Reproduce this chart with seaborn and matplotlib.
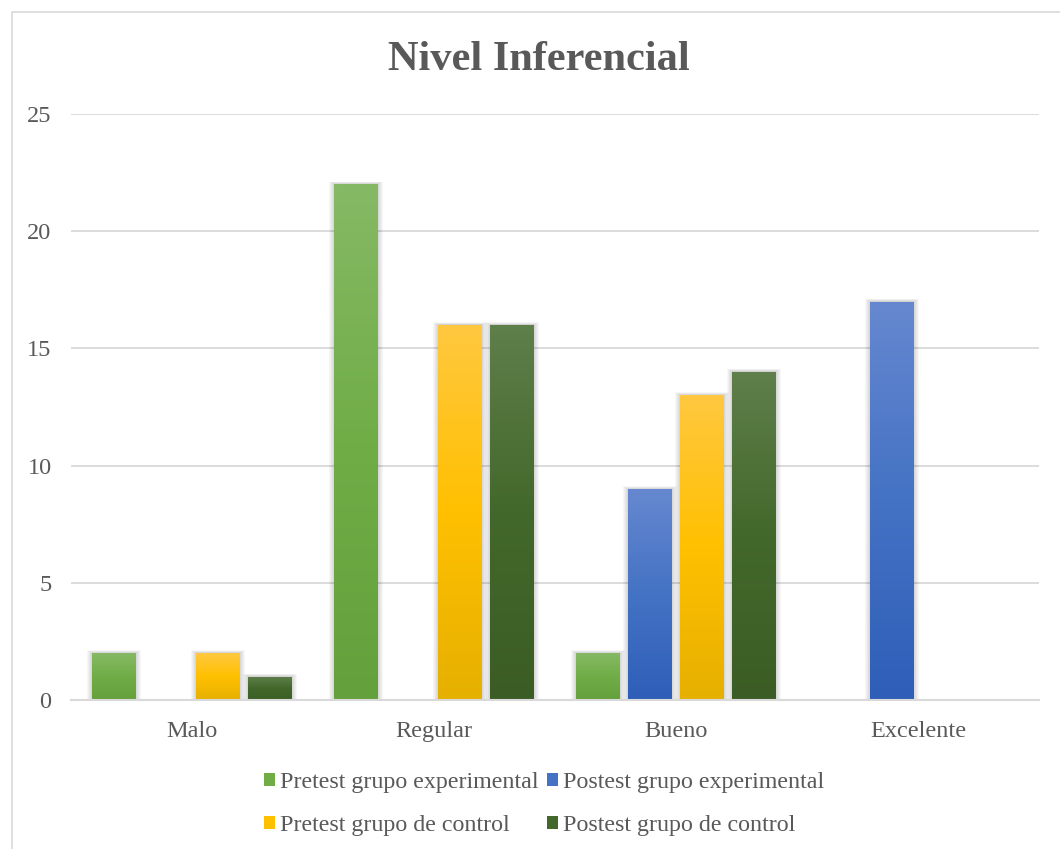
import matplotlib
matplotlib.use("Agg")
import matplotlib.pyplot as plt
import matplotlib.colors as mcolors
from matplotlib.patches import Patch, Rectangle
import numpy as np
import pandas as pd
import seaborn as sns

categories = ["Malo", "Regular", "Bueno", "Excelente"]
series = ["Pretest grupo experimental", "Postest grupo experimental",
          "Pretest grupo de control", "Postest grupo de control"]
pretest_exp = [2, 22, 2, 0]
postest_exp = [0, 0, 9, 17]
pretest_ctrl = [2, 16, 13, 0]
postest_ctrl = [1, 16, 14, 0]
y_ticks = [0, 5, 10, 15, 20, 25]

# top / middle / bottom shades for each series' vertical gradient
shades = {
    "Pretest grupo experimental": ("#86b965", "#70ad47", "#64a13c"),
    "Postest grupo experimental": ("#6688d0", "#4472c4", "#2e5eb8"),
    "Pretest grupo de control": ("#ffc840", "#ffc000", "#e6b000"),
    "Postest grupo de control": ("#5f7f4b", "#43682b", "#3b5d25"),
}
base = {k: v[1] for k, v in shades.items()}

rows = []
for s, vals in zip(series, [pretest_exp, postest_exp, pretest_ctrl, postest_ctrl]):
    for c, v in zip(categories, vals):
        rows.append({"Nivel": c, "Grupo": s, "Valor": v})
df = pd.DataFrame(rows)

sns.set_theme(style="white")
plt.rcParams["font.family"] = ["Liberation Serif", "DejaVu Serif"]

W, H = 1060, 849
fig = plt.figure(figsize=(W / 100, H / 100), dpi=100)
ax = fig.add_axes([71 / W, 1 - 700 / H, (1039 - 71) / W, (700 - 114) / H])

sns.barplot(data=df, x="Nivel", y="Valor", hue="Grupo", order=categories,
            hue_order=series, palette=base, width=0.86, gap=0.17,
            legend=False, ax=ax, saturation=1, errorbar=None)

ax.set_ylim(0, 25)
ax.set_xlim(-0.5, 3.5)
ax.set_yticks(y_ticks)
ax.yaxis.grid(True, color="#d9d9d9", linewidth=1.3)
ax.set_axisbelow(True)
for side in ["left", "right", "top"]:
    ax.spines[side].set_visible(False)
ax.spines["bottom"].set_color("#d9d9d9")
ax.spines["bottom"].set_linewidth(1.5)
ax.tick_params(axis="both", length=0, labelsize=17.5, labelcolor="#595959")
ax.tick_params(axis="y", pad=14)
ax.tick_params(axis="x", pad=15)
ax.set_xlabel("")
ax.set_ylabel("")

# replace flat fills with a vertical gradient and a soft shadow
for patch, grp in zip(list(ax.patches), [s for s in series for _ in categories]):
    h = patch.get_height()
    if h <= 0:
        patch.set_visible(False)
        continue
    x0, y0 = patch.get_x(), patch.get_y()
    w = patch.get_width()
    top, mid, bot = shades[grp]
    cmap = mcolors.LinearSegmentedColormap.from_list("g", [bot, mid, top])
    grad = np.linspace(0, 1, 256).reshape(-1, 1)
    # soft shadow halo
    for i in range(1, 7):
        dx = i * 0.0035
        dy = i * 0.02
        ax.add_patch(Rectangle((x0 - dx, y0), w + 2 * dx, h + dy,
                               facecolor="#000000", alpha=0.03,
                               edgecolor="none", zorder=1.5))
    im = ax.imshow(grad, extent=(x0, x0 + w, y0, y0 + h), origin="lower",
                   cmap=cmap, aspect="auto", zorder=2.5, interpolation="bilinear")
    patch.set_facecolor("none")
    patch.set_edgecolor("none")
    im.set_clip_path(patch)
ax.set_xlim(-0.5, 3.5)
ax.set_ylim(0, 25)

fig.text(539 / W, 1 - 60 / H, "Nivel Inferencial", ha="center", va="center",
         fontsize=30.5, fontweight="bold", color="#595959")

# legend fills column by column, so order entries to read row by row
leg_order = [series[0], series[2], series[1], series[3]]
handles = [Patch(facecolor=base[s], edgecolor="none") for s in leg_order]
leg = fig.legend(handles, leg_order, loc="center", bbox_to_anchor=(544 / W, 1 - 804 / H),
                 ncol=2, frameon=False, fontsize=17.3, handlelength=0.45,
                 handleheight=0.45, handletextpad=0.2, columnspacing=0.35,
                 labelspacing=0.9)
for t in leg.get_texts():
    t.set_color("#595959")

# outer chart border
fig.patches.append(Rectangle((12 / W, -0.1), 1.2, 1 - 12 / H + 0.1,
                             transform=fig.transFigure, fill=False,
                             edgecolor="#d9d9d9", linewidth=1.2))

fig.savefig("out.png", dpi=100)
